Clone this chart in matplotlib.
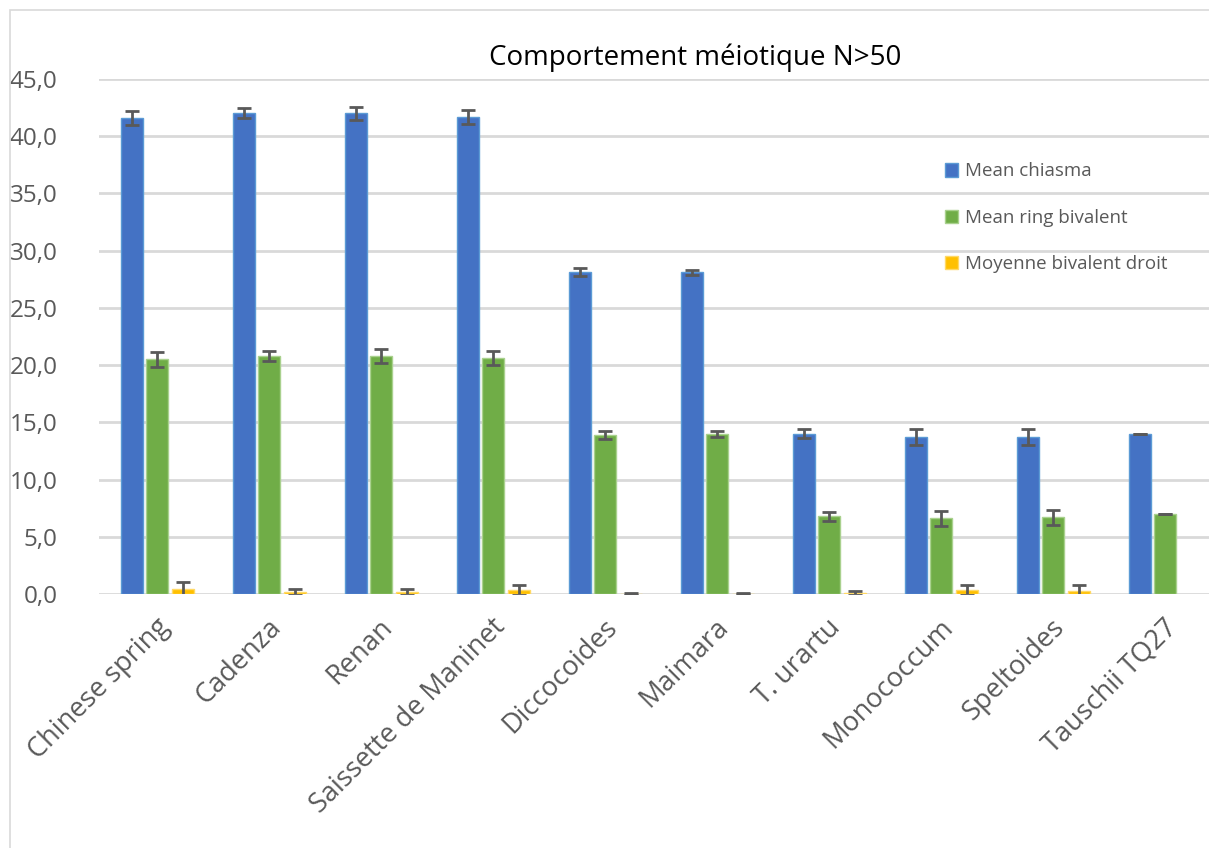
import numpy as np
import matplotlib
matplotlib.use('Agg')
import matplotlib.pyplot as plt
from matplotlib.patches import Rectangle
from matplotlib.ticker import FuncFormatter

plt.rcParams['font.family'] = ['Open Sans', 'DejaVu Sans']

# data
categories = ['Chinese spring', 'Cadenza', 'Renan', 'Saissette de Maninet',
              'Diccocoides', 'Maimara', 'T. urartu', 'Monococcum',
              'Speltoides', 'Tauschii TQ27']
chiasma = [41.6, 42.0, 42.0, 41.7, 28.1, 28.1, 14.0, 13.7, 13.7, 14.0]
chiasma_err = [0.6, 0.45, 0.55, 0.6, 0.35, 0.25, 0.4, 0.7, 0.7, 0.0]
ring = [20.5, 20.8, 20.8, 20.6, 13.9, 14.0, 6.8, 6.6, 6.7, 7.0]
ring_err = [0.65, 0.45, 0.6, 0.6, 0.35, 0.25, 0.4, 0.65, 0.65, 0.0]
droit = [0.45, 0.2, 0.2, 0.35, 0.03, 0.02, 0.1, 0.35, 0.3, np.nan]
droit_err = [0.6, 0.25, 0.25, 0.45, 0.1, 0.05, 0.15, 0.4, 0.45, np.nan]
labels = ['Mean chiasma', 'Mean ring bivalent', 'Moyenne bivalent droit']

W, H = 1209, 848
fig = plt.figure(figsize=(W / 100, H / 100), dpi=100)
# chart area border
fig.patches.append(Rectangle((10 / W, -0.1), 1.2, 1 - 10 / H + 0.1,
                             transform=fig.transFigure, fill=False,
                             edgecolor='#d9d9d9', lw=1.2))

ax = fig.add_axes([99 / W, 1 - 594 / H, (W - 99) / W, (594 - 79) / H])

x = np.arange(len(categories))
pitch = 0.228
bw = 0.2
cols = ['#4472C4', '#70AD47', '#FFC000']
edges = ['#5B9BD5', '#A9D18E', '#FFD966']
series = [(chiasma, chiasma_err), (ring, ring_err), (droit, droit_err)]
for i, (vals, errs) in enumerate(series):
    ax.bar(x + (i - 1) * pitch + 0.02, vals, bw, yerr=errs, color=cols[i],
           edgecolor=edges[i], linewidth=1, label=labels[i], zorder=3,
           error_kw=dict(ecolor='#595959', elinewidth=2, capsize=5,
                         capthick=2, zorder=4))

ax.set_ylim(0, 45)
ax.set_xlim(-0.5, -0.5 + (W - 99) / 112)
ax.set_yticks(np.arange(0, 46, 5))
ax.yaxis.set_major_formatter(FuncFormatter(lambda v, p: ('%.1f' % v).replace('.', ',')))
ax.grid(axis='y', color='#d9d9d9', lw=2, zorder=0)
for s in ax.spines.values():
    s.set_visible(False)
ax.tick_params(axis='y', length=0, pad=30, labelsize=17.5, labelcolor='#595959')
ax.tick_params(axis='x', length=0, pad=14, labelsize=19.5, labelcolor='#595959')
ax.set_xticks(x)
ax.set_xticklabels(categories, rotation=45, ha='right', rotation_mode='anchor')

fig.text(695 / W, 1 - 58 / H, 'Comportement méiotique N>50', ha='center',
         va='center', fontsize=20, color='black')

leg = ax.legend(loc='upper left', bbox_to_anchor=(937 / W, 1 - 155 / H),
                bbox_transform=fig.transFigure, frameon=False, fontsize=13.5,
                handlelength=0.7, handleheight=0.7, handletextpad=0.4,
                labelspacing=1.5, borderaxespad=0)
for t in leg.get_texts():
    t.set_color('#595959')

fig.savefig('out.png', dpi=100)
